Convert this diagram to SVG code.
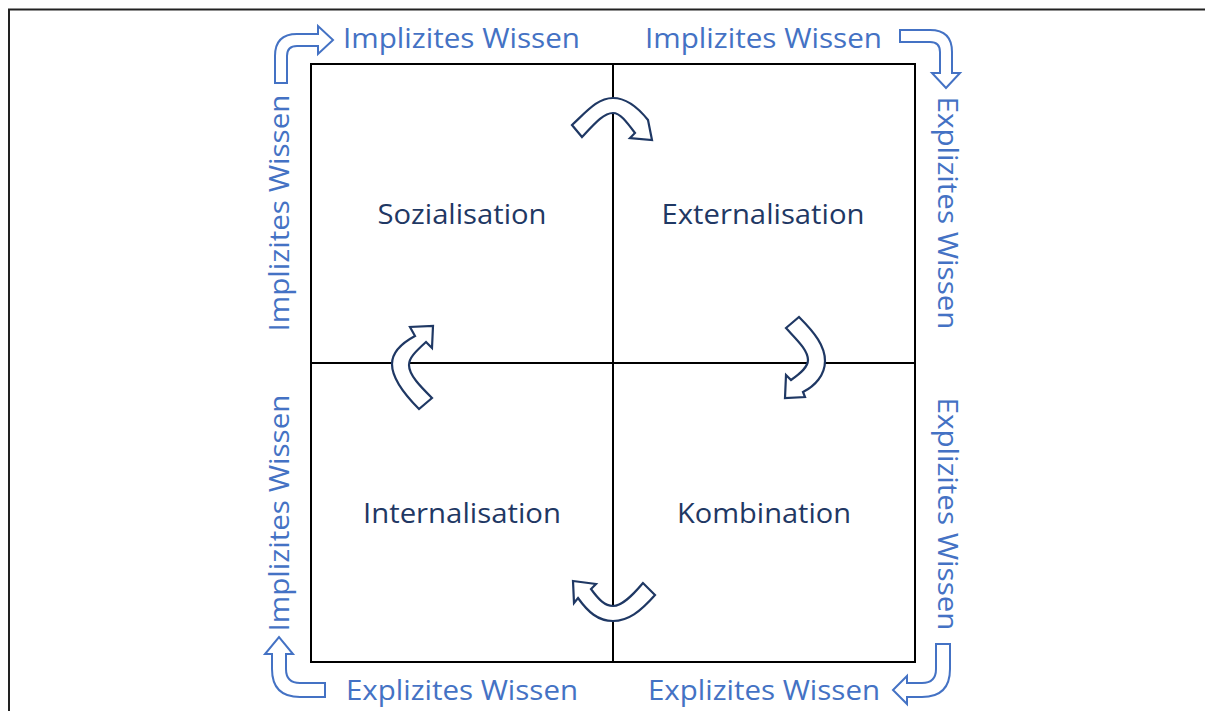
<svg xmlns="http://www.w3.org/2000/svg" width="1205" height="711" viewBox="0 0 1205 711">
<style>
.outer{font-family:"Open Sans","Liberation Sans",sans-serif;font-size:28px;fill:#4472C4}
.inner{font-family:"Open Sans","Liberation Sans",sans-serif;font-size:28px;fill:#1F3864}
.bend{fill:#fff;stroke:#4472C4;stroke-width:2;stroke-linejoin:miter}
.curve{fill:#fff;stroke:#1F3864;stroke-width:2.2;stroke-linejoin:miter}
.grid{fill:none;stroke:#000;stroke-width:2}
</style>
<rect width="1205" height="711" fill="#fff"/>
<path d="M8,9.5 H1205 M9,9 V711" fill="none" stroke="#222" stroke-width="2"/>
<g id="grid">
<rect class="grid" x="311" y="64" width="604" height="598"/>
<line class="grid" x1="613" y1="64" x2="613" y2="662"/>
<line class="grid" x1="311" y1="363" x2="915" y2="363"/>
</g>
<g id="sozialisation"><text class="inner" x="462" y="224" text-anchor="middle" textLength="169" lengthAdjust="spacingAndGlyphs">Sozialisation</text></g>
<g id="externalisation"><text class="inner" x="763" y="224" text-anchor="middle" textLength="203" lengthAdjust="spacingAndGlyphs">Externalisation</text></g>
<g id="internalisation"><text class="inner" x="462" y="523" text-anchor="middle" textLength="198" lengthAdjust="spacingAndGlyphs">Internalisation</text></g>
<g id="kombination"><text class="inner" x="764" y="523" text-anchor="middle" textLength="174" lengthAdjust="spacingAndGlyphs">Kombination</text></g>
<g id="labels">
<text class="outer" x="461.5" y="48" text-anchor="middle" textLength="237" lengthAdjust="spacingAndGlyphs">Implizites Wissen</text>
<text class="outer" x="763.5" y="48" text-anchor="middle" textLength="237" lengthAdjust="spacingAndGlyphs">Implizites Wissen</text>
<text class="outer" x="462" y="700" text-anchor="middle" textLength="232" lengthAdjust="spacingAndGlyphs">Explizites Wissen</text>
<text class="outer" x="764" y="700" text-anchor="middle" textLength="232" lengthAdjust="spacingAndGlyphs">Explizites Wissen</text>
<text class="outer" transform="translate(289,213) rotate(-90)" text-anchor="middle" textLength="237" lengthAdjust="spacingAndGlyphs">Implizites Wissen</text>
<text class="outer" transform="translate(289,513) rotate(-90)" text-anchor="middle" textLength="237" lengthAdjust="spacingAndGlyphs">Implizites Wissen</text>
<text class="outer" transform="translate(938,213) rotate(90)" text-anchor="middle" textLength="233" lengthAdjust="spacingAndGlyphs">Explizites Wissen</text>
<text class="outer" transform="translate(938,514) rotate(90)" text-anchor="middle" textLength="233" lengthAdjust="spacingAndGlyphs">Explizites Wissen</text>
</g>
<g id="connectors">
<path class="bend" d="M275,83 L275,56 Q275,34 297,34 L318,34 L318,26 L333,40 L318,54 L318,46 L297,46 Q287,46 287,56 L287,83 Z"/>
<path class="bend" d="M900,30 L930,30 Q952,30 952,52 L952,73 L960,73 L946,88 L932,73 L940,73 L940,52 Q940,42 930,42 L900,42 Z"/>
<path class="bend" d="M325,683 L300,683 Q286,683 286,669 L286,654 L293,654 L279,637 L265,654 L272,654 L272,669 Q272,697 300,697 L325,697 Z"/>
<path class="bend" d="M936,644 L950,644 L950,669 Q950,697 922,697 L907,697 L907,704 L893,690 L907,676 L907,683 L922,683 Q936,683 936,669 Z"/>
<path class="curve" d="M572,125 C588,110 598,98 613,98 C628,98 640,110 648,120 L652,140 L630,138 L635,133 C626,121 620,113 613,113 C604,113 596,122 582,137 Z"/>
<path class="curve" d="M573,581 L596,584 L591,589 C599,600 605,606 613,606 C622,606 632,596 643,583 L655,595 C640,612 628,621 613,621 C598,621 588,612 578,598 L574,603 Z"/>
<path class="curve" d="M433,326 L432,348 L426,342 C415,352 409,358 409,365 C409,375 420,386 432,398 L419,409 C404,394 392,378 392,364 C392,352 402,343 415,336 L410,327 Z"/>
<path class="curve" d="M799,317 C815,333 825,346 825,361 C825,375 815,386 803,392 L805,397 L785,398 L786,375 L791,380 C801,373 808,367 808,360 C808,350 797,340 786,328 Z"/>
</g>
</svg>
